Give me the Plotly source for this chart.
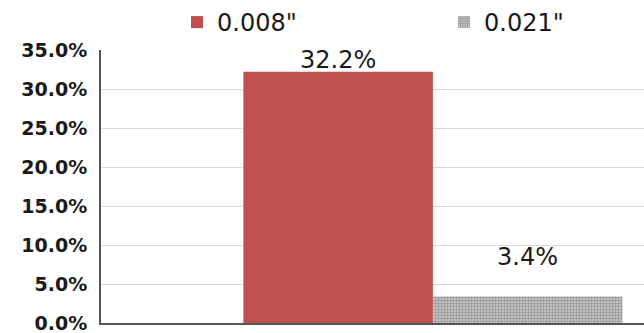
import plotly.graph_objects as go

# ---- data ----
categories = [0]
series_names = ['0.008"', '0.021"']
values_008 = [32.2]
values_021 = [3.4]
label_008 = ["32.2%"]
label_021 = ["3.4%"]
y_tick_vals = [0, 5, 10, 15, 20, 25, 30, 35]
y_tick_text = ["0.0%", "5.0%", "10.0%", "15.0%", "20.0%", "25.0%", "30.0%", "35.0%"]

BARGAP = 0.429
bar_w = (1 - BARGAP) / 2

fig = go.Figure()
fig.add_trace(go.Bar(
    x=categories, y=values_008, name=series_names[0],
    marker=dict(color="#c0504d", line=dict(width=0)),
))
fig.add_trace(go.Bar(
    x=categories, y=values_021, name=series_names[1],
    marker=dict(color="#a8a8a8", line=dict(width=0),
                pattern=dict(shape=".", fgcolor="#5e5e5e", bgcolor="#cdcdcd",
                             size=3, solidity=0.5)),
))

label_font = dict(family="DejaVu Sans", size=24, color="#1a1a1a")
for i, (vals, labs, ysh) in enumerate([(values_008, label_008, -4), (values_021, label_021, 23)]):
    for c, v, t in zip(categories, vals, labs):
        fig.add_annotation(x=c + (i - 0.5) * bar_w, y=v, text=t, showarrow=False,
                           xanchor="center", yanchor="bottom", yshift=ysh, font=label_font)

fig.update_layout(
    width=644, height=333,
    margin=dict(l=101, r=0, t=50, b=10, autoexpand=False),
    paper_bgcolor="white", plot_bgcolor="white",
    barmode="group", bargap=BARGAP, bargroupgap=0,
    showlegend=True,
    legend=dict(orientation="h", x=0.14, xanchor="left", y=1.0, yref="container",
                yanchor="top", font=dict(family="DejaVu Sans", size=24, color="#1a1a1a"),
                entrywidth=222, entrywidthmode="pixels", itemclick=False),
    xaxis=dict(range=[-0.5, 0.318], showticklabels=False, showgrid=False, zeroline=False,
               showline=True, linecolor="#555555", linewidth=2, ticks=""),
    yaxis=dict(range=[0, 35], tickvals=y_tick_vals, ticktext=y_tick_text,
               showgrid=True, gridcolor="#d9d9d9", gridwidth=1, zeroline=False,
               showline=True, linecolor="#555555", linewidth=2, ticks="",
               tickfont=dict(family="DejaVu Sans", size=19, color="#1a1a1a", weight="bold"),
               ticklabelstandoff=8, ticklabeloverflow="allow"),
)

fig.write_html("out.html")
